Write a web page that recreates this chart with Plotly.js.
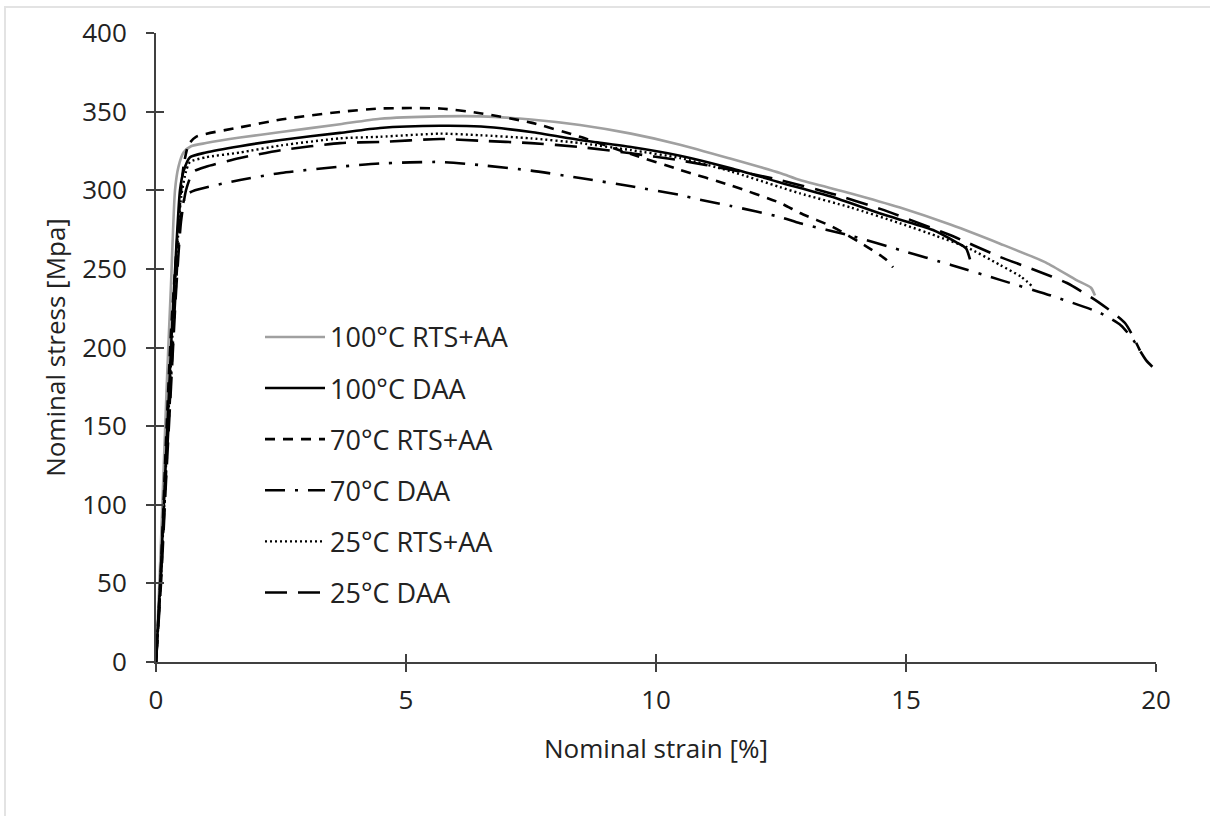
<!DOCTYPE html>
<html>
<head>
<meta charset="utf-8">
<script src="https://cdn.plot.ly/plotly-3.0.1.min.js"></script>
<style>
  html, body { margin: 0; padding: 0; background: #fff; }
  #wrap { position: relative; width: 1210px; height: 816px; overflow: hidden; }
  #chart { position: absolute; left: 0; top: 0; width: 1210px; height: 816px; }
  #bt { position: absolute; left: 4px; top: 6px; width: 1206px; height: 2px; background: #e3e3e3; }
  #bl { position: absolute; left: 4px; top: 6px; width: 2px; height: 810px; background: #e3e3e3; }
</style>
</head>
<body>
<div id="wrap">
  <div id="chart"></div>
  <div id="bt"></div>
  <div id="bl"></div>
</div>
<script>
// Series names
const seriesNames = ["100°C RTS+AA", "100°C DAA", "70°C RTS+AA", "70°C DAA", "25°C RTS+AA", "25°C DAA"];

// 100°C RTS+AA
const strain100RTS = [0,0.08,0.15,0.22,0.30,0.38,0.45,0.55,0.70,1.0,1.68,2.5,3.68,4.48,5.68,6.5,7.5,8.48,9.5,10.48,11.5,12.48,12.88,13.9,14.88,15.9,16.88,17.8,18.4,18.7,18.78];
const stress100RTS = [0,60,120,180,240,300,315,324,328,330,333.5,337,342,345.5,347,347,345,341.5,336,329,320,311,306.5,298,289,278,266,254,243,238,233];

// 100°C DAA
const strain100DAA = [0,0.10,0.20,0.30,0.40,0.48,0.55,0.68,1.0,1.68,2.5,3.68,4.48,5.68,6.5,7.5,8.48,9.5,10.48,11.5,12.48,13.5,14.5,15.54,16.0,16.2,16.28];
const stress100DAA = [0,60,130,200,260,300,312,321,324,328,332,336.5,339.6,341,340.5,337,332,327.5,322,314,305,296,285,274.7,267,263,256];

// 70°C RTS+AA
const strain70RTS = [0,0.10,0.20,0.30,0.45,0.55,0.65,0.80,1.68,2.5,3.68,4.48,5.68,6.48,7.5,8.48,9.5,10.48,11.5,12.48,12.88,13.54,14.22,14.6,14.74];
const stress70RTS = [0,60,140,210,280,315,329,334,340,345,349.8,352,352,349,343,334,323,313,303,292,285.5,276.6,264,256,251];

// 70°C DAA
const strain70DAA = [0,0.10,0.20,0.30,0.40,0.50,0.60,0.78,1.68,2.5,3.68,4.48,5.68,6.48,7.5,8.48,9.5,10.48,10.88,11.5,12.48,12.88,13.9,14.88,15.9,16.88,17.9,18.88,19.3,19.54,19.8,20.0];
const stress70DAA = [0,55,120,180,240,285,297,300,306.5,311,315,317,318,316,312.5,307.8,302.5,297,294,290,283,279,271,262,252.5,243,233,222,214,205,192,185.5];

// 25°C RTS+AA
const strain25RTS = [0,0.10,0.20,0.30,0.40,0.50,0.60,0.68,1.0,1.68,2.5,3.68,4.48,5.68,6.48,7.5,8.48,9.5,10.48,11.5,12.48,12.88,13.9,14.88,15.6,16.2,16.88,17.3,17.54];
const stress25RTS = [0,55,125,190,250,295,312,318,321,324,328.5,333,334,336,335,333,330,325.5,320.5,312,302,298,289,279,271,264,252.5,245,238.5];

// 25°C DAA
const strain25DAA = [0,0.10,0.20,0.30,0.40,0.50,0.60,0.74,1.0,1.68,2.5,3.68,4.48,5.68,6.48,7.5,8.48,9.5,10.48,11.5,12.48,13.5,14.5,15.88,16.88,17.6,18.22,18.84,19.38,19.68];
const stress25DAA = [0,50,115,175,235,280,300,311.6,315,320.5,325.5,330,330.7,332.6,331.5,330,327.5,323.5,319,313,306.5,298,288,271.5,257.6,249,241,229,215.6,198];

// Axis ticks
const xTicks = [0, 5, 10, 15, 20];
const yTicks = [0, 50, 100, 150, 200, 250, 300, 350, 400];

const xs = [strain100RTS, strain100DAA, strain70RTS, strain70DAA, strain25RTS, strain25DAA];
const ys = [stress100RTS, stress100DAA, stress70RTS, stress70DAA, stress25RTS, stress25DAA];
const styles = [
  {color: "#a0a0a0", width: 2.6, dash: "solid"},
  {color: "#000000", width: 2.6, dash: "solid"},
  {color: "#000000", width: 2.6, dash: "10px,8px"},
  {color: "#000000", width: 2.6, dash: "20px,10px,3px,10px"},
  {color: "#000000", width: 2.4, dash: "2px,3px"},
  {color: "#000000", width: 2.6, dash: "22px,11px"}
];

const FONT = "Open Sans, DejaVu Sans, sans-serif";
const FS = 26;
const traces = seriesNames.map((n, i) => ({
  x: xs[i], y: ys[i], name: n, type: "scatter", mode: "lines",
  line: Object.assign({shape: "spline", smoothing: 0.6}, styles[i]),
  legendgroup: "g" + i, hoverinfo: "skip"
}));
// invisible trace carrying the crossing (inside) ticks
traces.push({x: [0], y: [0], xaxis: "x2", yaxis: "y2", mode: "markers",
  marker: {opacity: 0}, showlegend: false, hoverinfo: "skip"});

const axisCommon = {
  showgrid: false, zeroline: false, showline: true,
  linecolor: "#404040", linewidth: 2,
  ticks: "outside", ticklen: 8, tickwidth: 2, tickcolor: "#404040",
  tickfont: {family: FONT, size: FS, color: "#222"}
};

const layout = {
  width: 1210, height: 816,
  margin: {l: 156, r: 54, t: 33, b: 154},
  paper_bgcolor: "#ffffff", plot_bgcolor: "#ffffff",
  font: {family: FONT, size: FS, color: "#222"},
  showlegend: true,
  legend: {
    x: 0.104, y: 0.555, xanchor: "left", yanchor: "top",
    font: {family: FONT, size: 27, color: "#222"},
    bgcolor: "rgba(0,0,0,0)", traceorder: "grouped", tracegroupgap: 13,
    itemwidth: 60
  },
  xaxis: Object.assign({}, axisCommon, {
    range: [0, 20], tickvals: xTicks, ticktext: xTicks.map(String),
    ticklabelstandoff: 6,
    title: {text: "Nominal strain [%]", font: {family: FONT, size: FS, color: "#222"}, standoff: 24},
    automargin: false
  }),
  yaxis: Object.assign({}, axisCommon, {
    range: [0, 400], tickvals: yTicks, ticktext: yTicks.map(String),
    ticklabelstandoff: 14,
    title: {text: "Nominal stress [Mpa]", font: {family: FONT, size: FS, color: "#222"}, standoff: 9},
    automargin: false
  }),
  xaxis2: {overlaying: "x", range: [0, 20], tickvals: xTicks, showticklabels: false,
    ticks: "inside", ticklen: 8, tickwidth: 2, tickcolor: "#404040",
    showgrid: false, zeroline: false, showline: false},
  yaxis2: {overlaying: "y", range: [0, 400], tickvals: yTicks, showticklabels: false,
    ticks: "inside", ticklen: 8, tickwidth: 2, tickcolor: "#404040",
    showgrid: false, zeroline: false, showline: false}
};

Plotly.newPlot("chart", traces, layout, {staticPlot: true, displayModeBar: false});
</script>
</body>
</html>
